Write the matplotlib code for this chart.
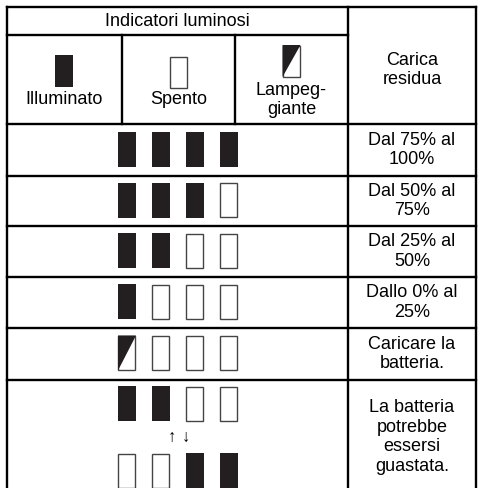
"""Battery indicator table: lamp patterns vs remaining charge."""

import matplotlib.pyplot as plt
from matplotlib.patches import Rectangle, Polygon

plt.rcParams.update({
    "font.family": ["Liberation Sans", "DejaVu Sans"],
    "font.size": 13,
})

INK = "#231f20"
EDGE = "#444444"

# lamp states per row: 1 = lit, 0 = off, 2 = blinking
row_states = [
    [1, 1, 1, 1],
    [1, 1, 1, 0],
    [1, 1, 0, 0],
    [1, 0, 0, 0],
    [2, 0, 0, 0],
]
fault_top = [1, 1, 0, 0]
fault_bottom = [0, 0, 1, 1]
charge_labels = [
    "Dal 75% al\n100%",
    "Dal 50% al\n75%",
    "Dal 25% al\n50%",
    "Dallo 0% al\n25%",
    "Caricare la\nbatteria.",
    "La batteria\npotrebbe\nessersi\nguastata.",
]
legend_labels = ["Illuminato", "Spento", "Lampeg-\ngiante"]
legend_states = [1, 0, 2]

# table grid (pixel units)
X0, XSPLIT, X1 = 7, 348, 476
HEAD_COLS = [7, 122, 235, 348]
Y_TOP, Y_HEAD1, Y_HEAD2 = 7, 35, 124
ROW_EDGES = [124, 176, 226, 277, 328, 380, 488]
LAMP_X = [118, 152, 186, 220]
LAMP_W, LAMP_H = 18, 35


def lamp(ax, x, y, state, w=LAMP_W, h=LAMP_H):
    if state == 1:
        ax.add_patch(Rectangle((x, y), w, h, facecolor=INK, edgecolor="none"))
    else:
        ax.add_patch(Rectangle((x + 0.5, y + 0.5), w - 1, h - 1,
                               facecolor="white", edgecolor=EDGE, linewidth=1.0))
        if state == 2:
            ax.add_patch(Polygon([(x, y), (x + w, y), (x, y + h)],
                                 closed=True, facecolor=INK, edgecolor="none"))


fig = plt.figure(figsize=(4.81, 4.88), dpi=100)
ax = fig.add_axes([0, 0, 1, 1])
ax.set_xlim(0, 481)
ax.set_ylim(488, 0)
ax.axis("off")

lw = 1.7
kw = dict(color="black", linewidth=lw, solid_capstyle="projecting")
# outer frame (bottom is cut off)
ax.plot([X0, X0], [Y_TOP, 490], **kw)
ax.plot([X1, X1], [Y_TOP, 490], **kw)
ax.plot([X0, X1], [Y_TOP, Y_TOP], **kw)
ax.plot([XSPLIT, XSPLIT], [Y_TOP, 490], **kw)
ax.plot([X0, XSPLIT], [Y_HEAD1, Y_HEAD1], **kw)
for xc in HEAD_COLS[1:3]:
    ax.plot([xc, xc], [Y_HEAD1, Y_HEAD2], **kw)
for ye in ROW_EDGES[:-1]:
    ax.plot([X0, X1], [ye, ye], **kw)

# header
ax.text((X0 + XSPLIT) / 2, (Y_TOP + Y_HEAD1) / 2 + 0.5, "Indicatori luminosi",
        ha="center", va="center")
ax.text((XSPLIT + X1) / 2, 70, "Carica\nresidua", ha="center", va="center",
        linespacing=1.2)
legend_icon_y = [55, 56, 45]
legend_text_y = [100, 100, 100]
for i, (lab, st) in enumerate(zip(legend_labels, legend_states)):
    cx = (HEAD_COLS[i] + HEAD_COLS[i + 1]) / 2
    lamp(ax, cx - 9, legend_icon_y[i], st, h=32)
    ax.text(cx, legend_text_y[i], lab, ha="center", va="center",
            linespacing=1.15)

# body rows
for r, states in enumerate(row_states):
    yc = (ROW_EDGES[r] + ROW_EDGES[r + 1]) / 2
    for x, st in zip(LAMP_X, states):
        lamp(ax, x, yc - LAMP_H / 2 - 1, st)

for x, st in zip(LAMP_X, fault_top):
    lamp(ax, x, 386, st)
for x, st in zip(LAMP_X, fault_bottom):
    lamp(ax, x, 453, st)
ax.text(172, 437, "\u2191", ha="center", va="center", fontsize=12)
ax.text(186, 437, "\u2193", ha="center", va="center", fontsize=12)

for r, lab in enumerate(charge_labels):
    yc = (ROW_EDGES[r] + ROW_EDGES[r + 1]) / 2
    if r == len(charge_labels) - 1:
        yc = 437
    ax.text((XSPLIT + X1) / 2, yc, lab, ha="center", va="center",
            linespacing=1.2)

fig.savefig("out.png", dpi=100, facecolor="white")
